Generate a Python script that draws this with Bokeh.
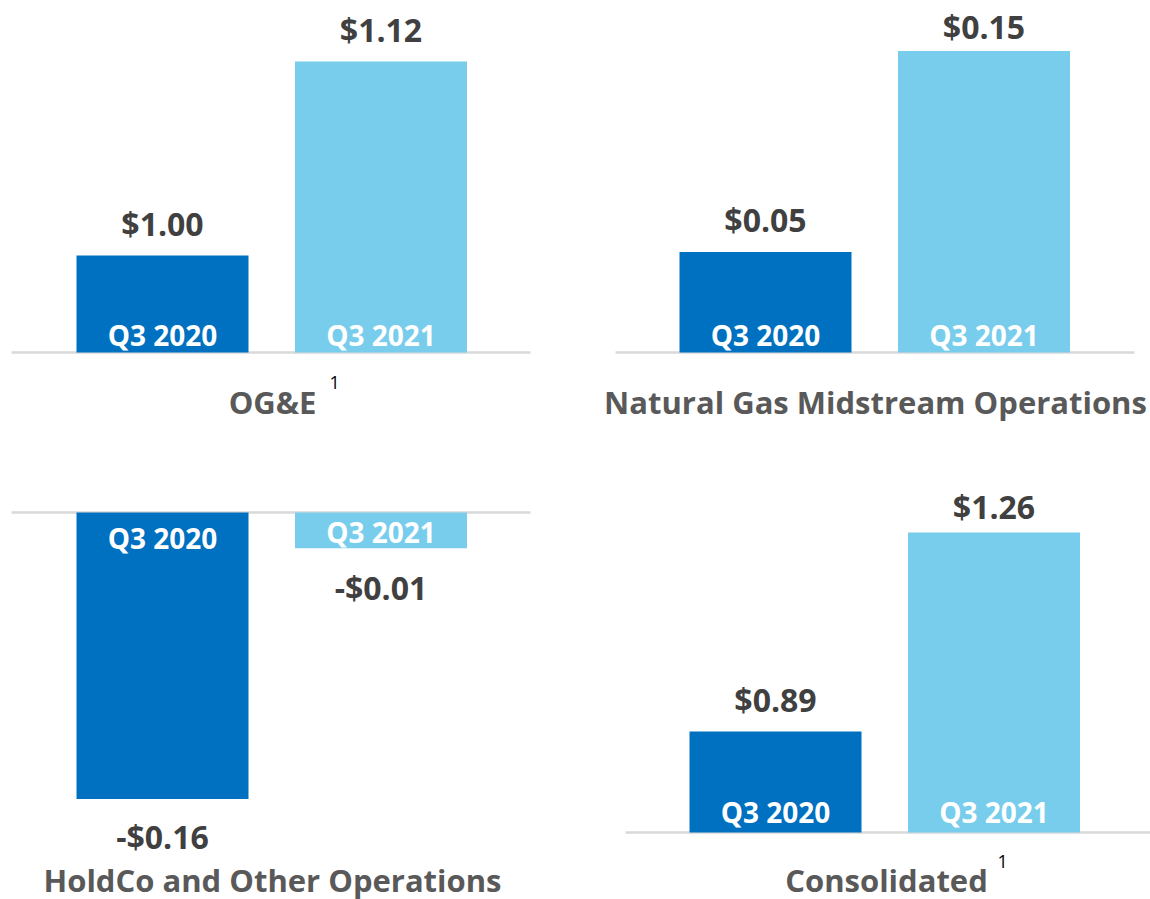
from bokeh.plotting import figure
from bokeh.layouts import column, row
from bokeh.models import Range1d, ColumnDataSource
from bokeh.core.properties import value
from bokeh.embed import file_html
from bokeh.resources import INLINE

# ---------------- data ----------------
periods = ["Q3 2020", "Q3 2021"]
segment_names = ["OG&E", "Natural Gas Midstream Operations",
                 "HoldCo and Other Operations", "Consolidated"]
oge_eps = [1.00, 1.12]
midstream_eps = [0.05, 0.15]
holdco_eps = [-0.16, -0.01]
consolidated_eps = [0.89, 1.26]
footnotes = ["1", "", "", "1"]
# value at which each panel's (hidden) value axis crosses the category axis
axis_base = [0.94, 0.0, 0.0113, 0.7022]

series = [oge_eps, midstream_eps, holdco_eps, consolidated_eps]

# ---------------- style / layout ----------------
BAR_COLORS = ["#0070C0", "#77CDEB"]
FONT = "Open Sans"
SPACING = 218.5      # px between bar centres
BAR_W = 172          # px
CORR = 11            # px, baseline correction for text placement
panels = [
    dict(w=575, h=450, base_px=352, ppu=1616.7, c0=162, line=(11, 530),
         title_x=272, title_y=38, sup=(329, 57), gap=[21, 21], q3=[7, 7]),
    dict(w=575, h=450, base_px=352, ppu=2010.0, c0=190, line=(40, 559),
         title_x=300, title_y=38, sup=None, gap=[22, 14], q3=[7, 7]),
    dict(w=575, h=449, base_px=62, ppu=1673.0, c0=162, line=(11, 530),
         title_x=272, title_y=9, sup=None, gap=[48, 50], q3=[36, 30]),
    dict(w=575, h=449, base_px=382, ppu=537.8, c0=200, line=(50, 575),
         title_x=311, title_y=9, sup=(422, 27), gap=[21, 15], q3=[10, 10]),
]


def fmt(v):
    return ("-$%.2f" % abs(v)) if v < 0 else ("$%.2f" % v)


figs = []
for k, cfg in enumerate(panels):
    vals = series[k]
    base = axis_base[k]
    y_top = base + cfg["base_px"] / cfg["ppu"]
    y_bot = base - (cfg["h"] - cfg["base_px"]) / cfg["ppu"]
    x_start = -cfg["c0"] / SPACING
    x_end = x_start + cfg["w"] / SPACING

    p = figure(width=cfg["w"], height=cfg["h"], output_backend="svg",
               toolbar_location=None, x_range=Range1d(x_start, x_end),
               y_range=Range1d(y_bot, y_top), x_axis_location=None,
               y_axis_location=None, min_border=0, tools="")
    p.grid.visible = False
    p.outline_line_color = None
    p.background_fill_color = "white"
    p.border_fill_color = "white"

    idx = list(range(len(periods)))
    src = ColumnDataSource(dict(
        x=idx, top=vals, bottom=[base] * len(vals), color=BAR_COLORS,
        label=[fmt(v) for v in vals], period=periods,
        label_off=[(-g if v >= base else g) - CORR for v, g in zip(vals, cfg["gap"])],
        q3_off=[(-q if v >= base else q) - CORR for v, q in zip(vals, cfg["q3"])],
        base=[base] * len(vals)))

    # axis line
    lx0 = x_start + cfg["line"][0] / SPACING
    lx1 = x_start + cfg["line"][1] / SPACING
    p.segment(x0=[lx0], x1=[lx1], y0=[base], y1=[base],
              line_color="#D9D9D9", line_width=2.5)

    p.vbar(x="x", top="top", bottom="bottom", width=BAR_W / SPACING,
           fill_color="color", line_color=None, source=src)

    # value labels
    p.text(x="x", y="top", text="label", y_offset="label_off", source=src,
           text_align="center", text_baseline="alphabetic",
           text_font=value(FONT), text_font_style="bold",
           text_font_size="32px", text_color="#404040")

    # period labels inside bars
    p.text(x="x", y="base", text="period", y_offset="q3_off", source=src,
           text_align="center", text_baseline="alphabetic",
           text_font=value(FONT), text_font_style="bold",
           text_font_size="28px", text_color="white")

    # panel title
    tx = x_start + cfg["title_x"] / SPACING
    p.text(x=[tx], y=[y_bot], text=[segment_names[k]],
           y_offset=-cfg["title_y"] - CORR,
           text_align="center", text_baseline="alphabetic",
           text_font=value(FONT), text_font_style="bold",
           text_font_size="31px", text_color="#595959")

    if footnotes[k] and cfg["sup"]:
        sx = x_start + cfg["sup"][0] / SPACING
        p.text(x=[sx], y=[y_bot], text=[footnotes[k]],
               y_offset=-cfg["sup"][1] - CORR,
               text_align="left", text_baseline="alphabetic",
               text_font=value(FONT), text_font_size="18px",
               text_color="#000000")
    figs.append(p)

layout = column(row(figs[0], figs[1], spacing=0),
                row(figs[2], figs[3], spacing=0), spacing=0)

open("out.html", "w").write(file_html(layout, INLINE))
